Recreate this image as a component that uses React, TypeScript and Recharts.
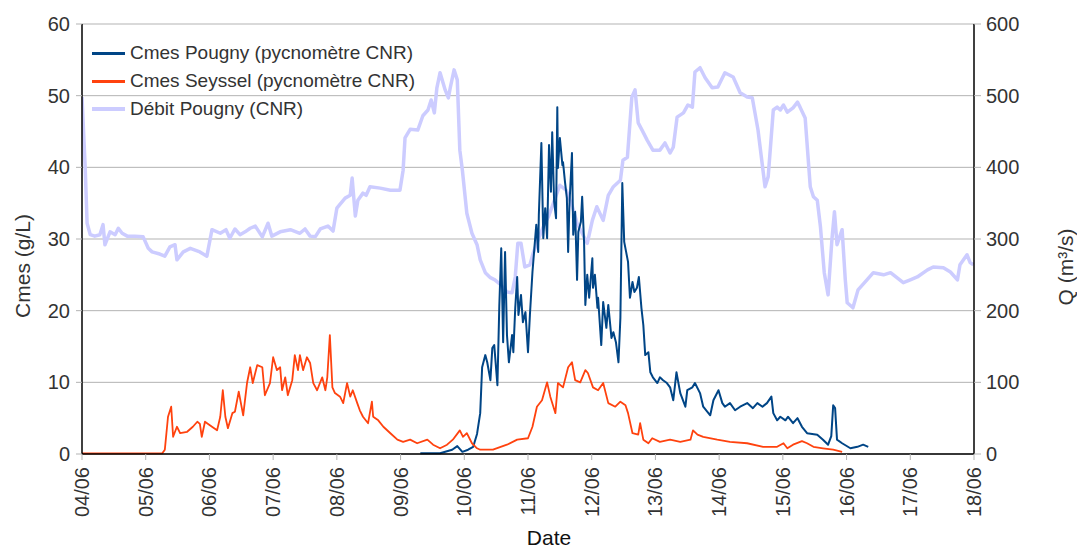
import { LineChart, Line, XAxis, YAxis, CartesianGrid, Label } from "recharts";

// days counted from 04/06 00:00
const dayTicks = [0, 1, 2, 3, 4, 5, 6, 7, 8, 9, 10, 11, 12, 13, 14];
const dayLabels = ["04/06", "05/06", "06/06", "07/06", "08/06", "09/06", "10/06", "11/06", "12/06", "13/06", "14/06", "15/06", "16/06", "17/06", "18/06"];
const cmesTicks = [0, 10, 20, 30, 40, 50, 60];
const qTicks = [0, 100, 200, 300, 400, 500, 600];

// Débit Pougny (CNR), m3/s
const debitDay = [
	0, 0.05, 0.08, 0.13, 0.2, 0.28, 0.33, 0.36, 0.44, 0.52, 0.57, 0.63, 0.71, 0.83, 0.96, 1.04, 1.1, 1.22, 1.3, 1.38,
	1.46, 1.49, 1.59, 1.7, 1.85, 1.96, 2.04, 2.17, 2.26, 2.32, 2.4, 2.48, 2.56, 2.64, 2.72, 2.83, 2.92, 2.98, 3.11, 3.27,
	3.42, 3.5, 3.58, 3.66, 3.74, 3.86, 3.94, 4.0, 4.13, 4.21, 4.24, 4.29, 4.33, 4.41, 4.46, 4.52, 4.68, 4.84, 4.99, 5.04,
	5.07, 5.15, 5.27, 5.35, 5.43, 5.48, 5.53, 5.57, 5.62, 5.7, 5.75, 5.78, 5.84, 5.89, 5.93, 5.97, 6.04, 6.12, 6.2, 6.25,
	6.33, 6.41, 6.48, 6.56, 6.67, 6.75, 6.8, 6.84, 6.89, 6.95, 7.03, 7.08, 7.16, 7.24, 7.32, 7.5, 7.6, 7.69, 7.77, 7.93,
	8.01, 8.08, 8.18, 8.26, 8.34, 8.45, 8.49, 8.56, 8.63, 8.68, 8.73, 8.79, 8.87, 8.96, 9.07, 9.15, 9.23, 9.28, 9.34, 9.44,
	9.51, 9.58, 9.62, 9.7, 9.78, 9.89, 9.98, 10.09, 10.22, 10.33, 10.44, 10.52, 10.61, 10.72, 10.77, 10.85, 10.91, 10.96, 11.01, 11.07,
	11.16, 11.23, 11.27, 11.35, 11.43, 11.48, 11.54, 11.59, 11.65, 11.71, 11.77, 11.81, 11.85, 11.93, 11.98, 12.01, 12.1, 12.18, 12.32, 12.42,
	12.58, 12.69, 12.89, 13.0, 13.11, 13.27, 13.36, 13.52, 13.63, 13.74, 13.78, 13.89, 13.94, 13.99,
];
const debitQ = [
	498, 400, 322, 306, 304, 306, 320, 292, 310, 306, 315, 308, 304, 304, 303, 287, 282, 279, 276, 289,
	292, 271, 282, 287, 282, 276, 313, 308, 313, 301, 314, 306, 310, 315, 318, 303, 322, 304, 310, 313,
	308, 314, 304, 303, 314, 318, 311, 343, 357, 361, 385, 332, 354, 364, 361, 373, 371, 368, 368, 396,
	441, 453, 452, 472, 480, 494, 476, 511, 532, 508, 497, 511, 536, 522, 424, 396, 336, 308, 292, 271,
	253, 246, 243, 237, 226, 225, 247, 294, 294, 261, 264, 280, 299, 317, 331, 375, 368, 347, 322, 294,
	326, 345, 326, 361, 373, 382, 410, 414, 498, 508, 462, 452, 438, 424, 424, 434, 420, 428, 470, 476,
	487, 484, 533, 539, 525, 511, 512, 532, 526, 504, 498, 497, 452, 373, 387, 480, 484, 480, 487, 477,
	483, 491, 484, 469, 373, 359, 354, 317, 253, 222, 299, 338, 292, 313, 243, 211, 204, 229, 243, 253,
	250, 253, 239, 243, 247, 257, 261, 260, 254, 243, 264, 278, 267, 264,
];

// Cmes Pougny (pycnomètre CNR), g/L
const pougnyDay = [
	5.31, 5.62, 5.81, 5.89, 5.97, 6.06, 6.14, 6.2, 6.25, 6.28, 6.33, 6.36, 6.41, 6.44, 6.47, 6.52, 6.55, 6.58, 6.61, 6.64,
	6.67, 6.7, 6.75, 6.77, 6.8, 6.83, 6.85, 6.89, 6.92, 6.96, 7.0, 7.03, 7.07, 7.1, 7.13, 7.16, 7.17, 7.21, 7.24, 7.27,
	7.3, 7.33, 7.36, 7.38, 7.41, 7.44, 7.46, 7.47, 7.5, 7.54, 7.55, 7.58, 7.61, 7.63, 7.65, 7.69, 7.71, 7.74, 7.77, 7.79,
	7.83, 7.85, 7.88, 7.9, 7.93, 7.96, 8.01, 8.02, 8.05, 8.09, 8.1, 8.15, 8.18, 8.23, 8.26, 8.31, 8.34, 8.38, 8.42, 8.45,
	8.48, 8.51, 8.54, 8.57, 8.6, 8.64, 8.67, 8.71, 8.74, 8.78, 8.81, 8.84, 8.89, 8.92, 8.96, 9.03, 9.07, 9.12, 9.18, 9.23,
	9.28, 9.33, 9.39, 9.47, 9.5, 9.58, 9.62, 9.7, 9.75, 9.86, 9.91, 9.99, 10.05, 10.09, 10.17, 10.25, 10.33, 10.44, 10.53, 10.6,
	10.68, 10.75, 10.82, 10.85, 10.91, 10.96, 11.04, 11.08, 11.16, 11.23, 11.3, 11.38, 11.54, 11.63, 11.71, 11.76, 11.79, 11.82, 11.85, 11.93,
	12.06, 12.17, 12.26, 12.34,
];
const pougnyCmes = [
	0.1, 0.1, 0.6, 1.1, 0.3, 0.6, 1.0, 2.8, 5.7, 12.1, 13.8, 12.8, 10.3, 14.8, 15.2, 9.6, 20.8, 28.7, 15.6, 28.2,
	16.6, 12.8, 16.6, 14.2, 20.4, 24.7, 19.4, 22.2, 18.4, 19.8, 14.2, 19.4, 25.4, 28.7, 32.0, 28.2, 33.3, 43.4, 30.1, 34.3,
	30.1, 43.1, 36.6, 44.9, 35.2, 32.9, 48.4, 39.9, 44.1, 40.3, 40.7, 38.0, 35.7, 28.2, 34.7, 42.0, 30.6, 33.8, 24.3, 31.0,
	32.4, 35.9, 29.6, 20.8, 25.0, 21.8, 27.3, 23.2, 25.0, 20.4, 21.8, 15.2, 21.2, 17.6, 20.8, 16.2, 17.0, 15.6, 12.8, 19.0,
	37.8, 29.6, 28.2, 26.8, 21.8, 24.0, 22.6, 23.2, 24.7, 20.4, 18.0, 13.8, 14.2, 11.4, 10.7, 9.9, 10.7, 10.3, 9.9, 9.3,
	7.5, 11.4, 8.5, 6.6, 8.9, 9.3, 9.9, 8.5, 6.6, 5.4, 7.5, 8.9, 7.1, 6.6, 7.1, 6.1, 6.6, 7.1, 6.4, 7.1,
	6.6, 7.1, 8.0, 5.7, 4.7, 5.2, 4.7, 5.2, 4.3, 5.0, 3.8, 2.9, 2.7, 2.0, 1.3, 2.5, 6.8, 6.4, 2.0, 1.5,
	0.8, 1.0, 1.3, 1.0,
];

// Cmes Seyssel (pycnomètre CNR), g/L
const seysselDay = [
	0, 0.6, 1.26, 1.3, 1.35, 1.4, 1.43, 1.49, 1.54, 1.65, 1.74, 1.81, 1.85, 1.88, 1.93, 2.04, 2.12, 2.17, 2.21, 2.25,
	2.29, 2.36, 2.4, 2.46, 2.53, 2.59, 2.64, 2.68, 2.75, 2.83, 2.87, 2.95, 3.0, 3.06, 3.11, 3.14, 3.19, 3.23, 3.3, 3.34,
	3.39, 3.42, 3.47, 3.53, 3.58, 3.63, 3.69, 3.77, 3.82, 3.85, 3.89, 3.93, 3.97, 4.05, 4.1, 4.16, 4.21, 4.25, 4.32, 4.36,
	4.41, 4.49, 4.55, 4.57, 4.65, 4.73, 4.84, 4.95, 5.04, 5.15, 5.26, 5.42, 5.51, 5.62, 5.73, 5.82, 5.93, 5.98, 6.04, 6.12,
	6.2, 6.25, 6.45, 6.67, 6.83, 7.0, 7.07, 7.14, 7.22, 7.3, 7.35, 7.43, 7.47, 7.55, 7.63, 7.69, 7.74, 7.82, 7.9, 7.94,
	8.02, 8.1, 8.18, 8.26, 8.37, 8.45, 8.53, 8.57, 8.64, 8.73, 8.76, 8.81, 8.89, 8.95, 9.07, 9.23, 9.39, 9.55, 9.59, 9.66,
	9.75, 9.97, 10.17, 10.44, 10.69, 10.91, 11.01, 11.07, 11.16, 11.3, 11.38, 11.48, 11.63, 11.79, 11.93,
];
const seysselCmes = [
	0.1, 0.1, 0.1, 0.6, 5.2, 6.6, 2.4, 3.8, 2.9, 3.1, 3.8, 4.5, 4.2, 2.4, 4.5, 3.8, 3.3, 5.2, 8.9, 5.2,
	3.6, 5.7, 5.9, 8.7, 5.4, 9.9, 12.1, 9.9, 12.4, 12.1, 8.2, 9.9, 13.5, 11.7, 12.1, 8.9, 10.7, 8.2, 10.3, 13.8,
	11.7, 13.8, 11.7, 13.5, 12.7, 9.9, 8.9, 10.7, 8.9, 10.7, 16.6, 9.3, 8.5, 8.0, 7.1, 9.9, 8.0, 8.9, 7.1, 6.1,
	5.2, 4.3, 7.3, 5.2, 4.7, 3.8, 2.9, 2.0, 1.7, 2.0, 1.5, 2.0, 1.3, 0.8, 1.3, 2.0, 3.3, 2.4, 2.9, 1.5,
	0.8, 0.6, 0.6, 1.3, 2.0, 2.2, 3.8, 6.6, 7.5, 10.0, 8.0, 5.7, 9.9, 9.3, 12.1, 12.8, 10.3, 10.0, 11.7, 11.3,
	9.3, 8.9, 9.9, 7.1, 6.6, 7.3, 6.8, 5.7, 2.9, 2.7, 4.3, 2.0, 1.5, 2.2, 1.7, 2.0, 1.7, 2.0, 3.3, 2.7,
	2.4, 2.0, 1.7, 1.5, 1.0, 1.0, 1.5, 0.8, 1.3, 1.8, 1.5, 1.0, 0.8, 0.6, 0.3,
];

const debitData = debitDay.map((day, i) => ({ day, q: debitQ[i] }));
const pougnyData = pougnyDay.map((day, i) => ({ day, cmes: pougnyCmes[i] }));
const seysselData = seysselDay.map((day, i) => ({ day, cmes: seysselCmes[i] }));

const FONT = '"Liberation Sans", Arial, sans-serif';
const TXT = "#333333";
const GRID = "#b3b3b3";

const legendItems = [
	{ label: "Cmes Pougny (pycnomètre CNR)", color: "#004586", thick: 3 },
	{ label: "Cmes Seyssel (pycnomètre CNR)", color: "#ff420e", thick: 3 },
	{ label: "Débit Pougny (CNR)", color: "#ccccff", thick: 4 },
];

const DateTick = ({ x, y, payload }: any) => (
	<text
		x={x}
		y={y}
		transform={`rotate(-90 ${x} ${y})`}
		textAnchor="end"
		dy="0.35em"
		fontSize={20}
		fontFamily={FONT}
		fill={TXT}
	>
		{dayLabels[dayTicks.indexOf(payload.value)]}
	</text>
);

const VTitle = ({ x, y, text }: { x: number; y: number; text: string }) => (
	<text
		x={x}
		y={y}
		transform={`rotate(-90 ${x} ${y})`}
		textAnchor="middle"
		dy="0.35em"
		fontSize={21}
		fontFamily={FONT}
		fill={TXT}
	>
		{text}
	</text>
);

export default function App() {
	return (
		<div style={{ position: "absolute", left: 0, top: 0, width: 1077, height: 548, background: "#fff", fontFamily: FONT }}>
			<LineChart width={1077} height={548} margin={{ top: 24, right: 0, left: 0, bottom: 0 }}>
				<CartesianGrid vertical={false} stroke={GRID} strokeWidth={1} yAxisId="cmes" />
				<XAxis
					dataKey="day"
					type="number"
					domain={[0, 14]}
					ticks={dayTicks}
					interval={0}
					height={94}
					axisLine={{ stroke: "#000", strokeWidth: 1.5 }}
					tickLine={{ stroke: GRID }}
					tickSize={6}
					tickMargin={7}
					tick={<DateTick />}
					allowDataOverflow
				>
					<Label
						content={() => (
							<text x={549} y={545} textAnchor="middle" fontSize={21} fontFamily={FONT} fill="#111">
								Date
							</text>
						)}
					/>
				</XAxis>
				<YAxis
					yAxisId="cmes"
					domain={[0, 60]}
					ticks={cmesTicks}
					interval={0}
					width={82}
					axisLine={{ stroke: "#000", strokeWidth: 1.5 }}
					tickLine={{ stroke: GRID }}
					tickSize={6}
					tickMargin={6}
					tick={{ fontSize: 20, fontFamily: FONT, fill: TXT }}
				>
					<Label content={() => <VTitle x={23} y={266} text="Cmes (g/L)" />} />
				</YAxis>
				<YAxis
					yAxisId="q"
					orientation="right"
					domain={[0, 600]}
					ticks={qTicks}
					interval={0}
					width={103}
					axisLine={{ stroke: "#000", strokeWidth: 1.5 }}
					tickLine={{ stroke: GRID }}
					tickSize={7}
					tickMargin={5}
					tick={{ fontSize: 20, fontFamily: FONT, fill: TXT, textAnchor: "start" }}
				>
					<Label content={() => <VTitle x={1066} y={267} text="Q (m³/s)" />} />
				</YAxis>
				<Line
					yAxisId="q"
					data={debitData}
					dataKey="q"
					type="linear"
					stroke="#ccccff"
					strokeWidth={3.5}
					dot={false}
					strokeLinejoin="round"
					isAnimationActive={false}
				/>
				<Line
					yAxisId="cmes"
					data={pougnyData}
					dataKey="cmes"
					type="linear"
					stroke="#004586"
					strokeWidth={2}
					dot={false}
					strokeLinejoin="round"
					isAnimationActive={false}
				/>
				<Line
					yAxisId="cmes"
					data={seysselData}
					dataKey="cmes"
					type="linear"
					stroke="#ff420e"
					strokeWidth={1.8}
					dot={false}
					strokeLinejoin="round"
					isAnimationActive={false}
				/>
			</LineChart>
			<div style={{ position: "absolute", left: 92, top: 39 }}>
				{legendItems.map((it) => (
					<div key={it.label} style={{ display: "flex", alignItems: "center", height: 28 }}>
						<span style={{ display: "inline-block", width: 33, height: it.thick, background: it.color }} />
						<span style={{ marginLeft: 5, fontSize: 19, color: TXT, whiteSpace: "nowrap" }}>{it.label}</span>
					</div>
				))}
			</div>
		</div>
	);
}
